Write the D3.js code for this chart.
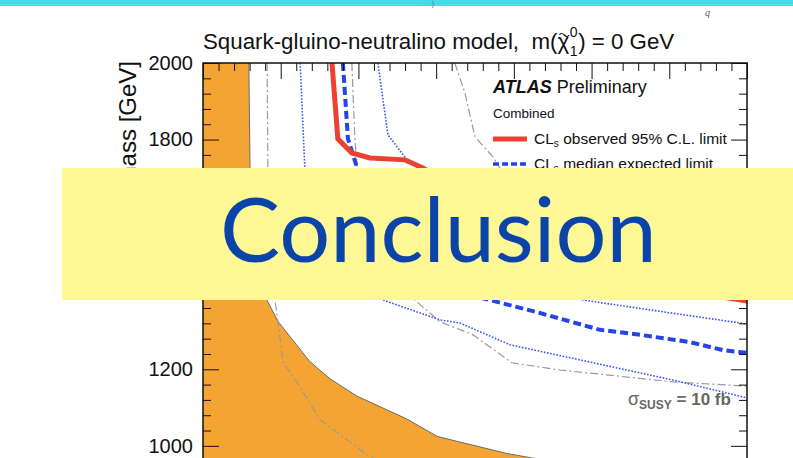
<!DOCTYPE html>
<html>
<head>
<meta charset="utf-8">
<script src="https://cdn.jsdelivr.net/npm/d3@7"></script>
<style>
  body { margin: 0; background: #fff; }
  svg { display: block; font-family: "Liberation Sans", Arial, sans-serif; }
</style>
</head>
<body>
<div id="chart"></div>
<script>
// squark (y) vs gluino (x) mass plane, values in GeV
const yTickValues = [1000, 1200, 1400, 1600, 1800, 2000];
const xTickValues = [1000, 1200, 1400, 1600, 1800, 2000, 2200, 2400];

// orange region edge
const orangeEdge = [[1118, 2000], [1121, 1725], [1134, 1510], [1165, 1380], [1193, 1325], [1275, 1220],
  [1327, 1175], [1396, 1130], [1525, 1070], [1602, 1025], [1661, 1010], [1782, 980], [1849, 968],
  [2020, 945], [2400, 910]];

// CLs observed 95% limit
const observed = [[1332, 2000], [1347, 1802], [1383, 1765], [1430, 1752], [1520, 1747], [1566, 1726],
  [1661, 1668], [1816, 1564], [2022, 1472], [2227, 1407], [2400, 1378]];

// CLs median expected
const expected = [[1360, 2000], [1373, 1802], [1396, 1728], [1455, 1642], [1584, 1486], [1687, 1394],
  [1757, 1376], [1867, 1347], [2022, 1303], [2125, 1290], [2253, 1271], [2338, 1250], [2400, 1243]];

// expected +/- 1 sigma
const expectedUp = [[1450, 2000], [1476, 1812], [1525, 1747], [1636, 1668], [1816, 1486], [1919, 1407],
  [1978, 1381], [2117, 1360], [2382, 1321], [2400, 1318]];
const expectedDown = [[1250, 2000], [1262, 1726], [1301, 1590], [1378, 1459], [1463, 1381], [1610, 1329],
  [1661, 1321], [1790, 1264], [2209, 1172], [2389, 1128], [2400, 1125]];

// sigma_SUSY contours
const xsecHigh = [[1165, 2000], [1167, 1726], [1185, 1381], [1193, 1324], [1206, 1219], [1250, 1154],
  [1301, 1068], [1396, 997], [1430, 971], [1558, 924], [1893, 859], [2400, 806]];
const xsec10fb = [[1383, 2000], [1391, 1799], [1404, 1642], [1481, 1459], [1545, 1381], [1610, 1324],
  [1695, 1290], [1795, 1217], [1919, 1198], [1996, 1190], [2209, 1167], [2400, 1156]];
const xsecLow = [[1648, 2000], [1674, 1922], [1700, 1807], [1746, 1755], [1764, 1726], [1919, 1616],
  [2150, 1525], [2400, 1459]];

const W = 793, H = 458;
const svg = d3.select("#chart").append("svg").attr("width", W).attr("height", H);

const x = d3.scaleLinear().domain([1000, 2400]).range([203, 747]);
const y = d3.scaleLinear().domain([600, 2000]).range([599, 63]);

// slide top bar
svg.append("rect").attr("x", 0).attr("y", 0).attr("width", W).attr("height", 6).attr("fill", "#4dd7e7");
svg.append("text").attr("x", 431).attr("y", 7).attr("fill", "#777").style("font-size", "9px")
  .style("font-family", "DejaVu Serif").text(")");
svg.append("text").attr("x", 705).attr("y", 16).attr("fill", "#555").style("font-size", "10px")
  .style("font-family", "Liberation Serif").style("font-style", "italic").text("q");

const plot = svg.append("g");
plot.append("clipPath").attr("id", "clip").append("rect")
  .attr("x", 203).attr("y", 63).attr("width", 544).attr("height", 536);
const inner = plot.append("g").attr("clip-path", "url(#clip)");

const line = d3.line().x(d => x(d[0])).y(d => y(d[1]));

const orangeArea = [[1000, 2000], ...orangeEdge, [2400, 600], [1000, 600]];
inner.append("path").attr("d", line(orangeArea) + "Z").attr("fill", "#f4a433");
inner.append("path").attr("d", line(orangeEdge)).attr("fill", "none")
  .attr("stroke", "#6b6b6b").attr("stroke-width", 1);

[xsecHigh, xsec10fb, xsecLow].forEach(c => {
  inner.append("path").attr("d", line(c)).attr("fill", "none")
    .attr("stroke", "#9a9a9a").attr("stroke-width", 1.2).attr("stroke-dasharray", "8,3,2,3");
});

[expectedUp, expectedDown].forEach(c => {
  inner.append("path").attr("d", line(c)).attr("fill", "none")
    .attr("stroke", "#3a55f0").attr("stroke-width", 1.6).attr("stroke-dasharray", "1.6,1.6");
});

inner.append("path").attr("d", line(expected)).attr("fill", "none")
  .attr("stroke", "#2443e8").attr("stroke-width", 4).attr("stroke-dasharray", "8,4");

inner.append("path").attr("d", line(observed)).attr("fill", "none")
  .attr("stroke", "#ec4130").attr("stroke-width", 5);

// sigma label
const lab = svg.append("text").attr("x", 628).attr("y", 405).attr("fill", "#666")
  .style("font-size", "17px").style("font-weight", "bold");
lab.append("tspan").style("font-weight", "normal").style("font-size", "18px").text("σ");
lab.append("tspan").attr("dy", 4).style("font-size", "12px").text("SUSY");
lab.append("tspan").attr("dy", -4).text(" = 10 fb");

// axes (ticks inward)
function tickAxis(axis, tr, size, vals, labels) {
  const g = plot.append("g").attr("transform", tr)
    .call(axis.tickValues(vals).tickSize(-size).tickPadding(10).tickFormat(labels ? d3.format("d") : ""));
  g.select(".domain").remove();
  g.selectAll("line").attr("stroke", "#111");
  g.selectAll("text").style("font-size", "20px").attr("fill", "#111")
    .style("font-family", "'Liberation Sans', Arial, sans-serif");
  return g;
}
const minorY = d3.range(600, 2001, 40).filter(v => v % 200 !== 0);
const minorX = d3.range(1000, 2401, 40).filter(v => v % 200 !== 0);
tickAxis(d3.axisLeft(y), "translate(203,0)", 8, minorY, false);
tickAxis(d3.axisLeft(y), "translate(203,0)", 16, yTickValues, true);
tickAxis(d3.axisRight(y), "translate(747,0)", 8, minorY, false);
tickAxis(d3.axisRight(y), "translate(747,0)", 16, yTickValues, false);
tickAxis(d3.axisTop(x), "translate(0,63)", 8, minorX, false);
tickAxis(d3.axisTop(x), "translate(0,63)", 16, xTickValues, false);

plot.append("rect").attr("x", 203).attr("y", 63).attr("width", 544).attr("height", 536)
  .attr("fill", "none").attr("stroke", "#111").attr("stroke-width", 1.5);

// axis title
svg.append("text").attr("transform", "translate(136,61) rotate(-90)")
  .attr("text-anchor", "end").style("font-size", "24px").attr("fill", "#111")
  .text("Squark mass [GeV]");

// title
const t1 = svg.append("text").attr("x", 203).attr("y", 49).style("font-size", "22.3px")
  .style("white-space", "pre").attr("fill", "#111").text("Squark-gluino-neutralino model,  m(");
let tx = 203 + t1.node().getComputedTextLength();
const chi = svg.append("text").attr("x", tx).attr("y", 49).style("font-size", "22.3px").attr("fill", "#111").text("χ");
const cw = chi.node().getComputedTextLength();
// tilde over chi
svg.append("path")
  .attr("d", `M${tx + 2},${35} q${cw / 4 - 1},-3 ${cw / 2 - 1},0 t${cw / 2 - 1},0`)
  .attr("fill", "none").attr("stroke", "#111").attr("stroke-width", 1.2);
svg.append("text").attr("x", tx + cw + 0.5).attr("y", 37).style("font-size", "14px").attr("fill", "#111").text("0");
svg.append("text").attr("x", tx + cw + 0.5).attr("y", 56).style("font-size", "14px").attr("fill", "#111").text("1");
svg.append("text").attr("x", tx + cw + 9).attr("y", 49).style("font-size", "22.3px")
  .style("white-space", "pre").attr("fill", "#111").text(") = 0 GeV");

// legend
const lg = svg.append("g").attr("fill", "#111");
const atl = lg.append("text").attr("x", 493).attr("y", 93).style("font-size", "18px");
atl.append("tspan").style("font-weight", "bold").style("font-style", "italic").text("ATLAS");
atl.append("tspan").text(" Preliminary");
lg.append("text").attr("x", 493).attr("y", 118).style("font-size", "13.5px").text("Combined");
lg.append("line").attr("x1", 493).attr("x2", 527).attr("y1", 139).attr("y2", 139)
  .attr("stroke", "#ec4130").attr("stroke-width", 5);
lg.append("line").attr("x1", 493).attr("x2", 527).attr("y1", 164).attr("y2", 164)
  .attr("stroke", "#2443e8").attr("stroke-width", 3.5).attr("stroke-dasharray", "6,3");
[["observed 95% C.L. limit", 144], ["median expected limit", 169]].forEach(([s, yy]) => {
  const t = lg.append("text").attr("x", 534).attr("y", yy).style("font-size", "15.5px");
  t.append("tspan").text("CL");
  t.append("tspan").attr("dy", 3).style("font-size", "10px").text("s");
  t.append("tspan").attr("dy", -3).text(" " + s);
});

// overlay banner
svg.append("rect").attr("x", 62).attr("y", 168).attr("width", W - 62).attr("height", 132).attr("fill", "#fef795");
svg.append("text").attr("x", 220).attr("y", 262).attr("fill", "#0b44a8")
  .style("font-family", "Lato, 'Open Sans', sans-serif").style("font-size", "90px").text("Conclusion");
</script>
</body>
</html>
